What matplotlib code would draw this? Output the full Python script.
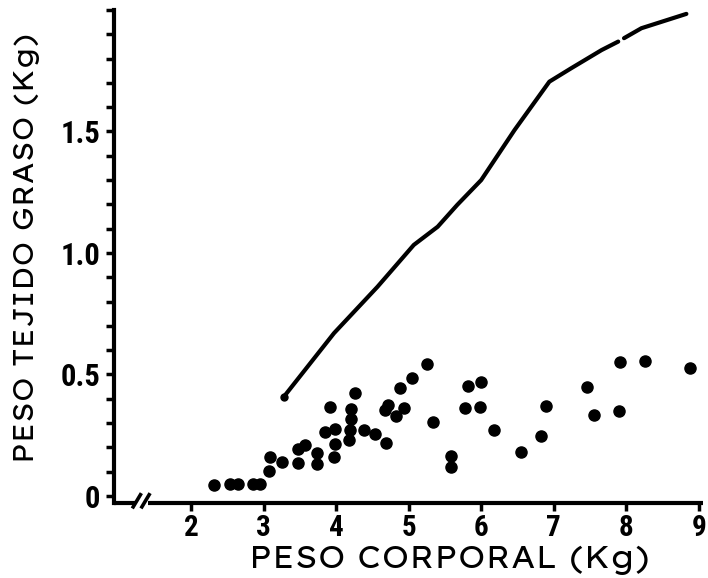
import matplotlib
matplotlib.use("Agg")
import matplotlib.pyplot as plt
from matplotlib import font_manager as fm
from matplotlib.textpath import TextPath
from matplotlib.font_manager import FontProperties

# ---- data ----
peso_corporal = [2.31, 2.53, 2.65, 2.85, 2.95, 3.08, 3.09, 3.25, 3.48, 3.48,
                 3.57, 3.74, 3.73, 3.84, 3.98, 3.91, 3.98, 3.97, 4.26, 4.21,
                 4.21, 4.19, 4.18, 4.38, 4.53, 4.69, 4.71, 4.67, 4.88, 4.94,
                 4.83, 5.04, 5.25, 5.34, 5.58, 5.58, 5.82, 6.00, 5.78, 5.99,
                 6.17, 6.55, 6.83, 6.90, 7.46, 7.56, 7.90, 7.91, 8.26, 8.88]
peso_graso = [0.044, 0.051, 0.051, 0.051, 0.051, 0.102, 0.162, 0.139, 0.137, 0.195,
              0.211, 0.178, 0.130, 0.263, 0.276, 0.365, 0.213, 0.162, 0.425, 0.357,
              0.316, 0.272, 0.230, 0.272, 0.254, 0.217, 0.374, 0.354, 0.446, 0.363,
              0.329, 0.487, 0.544, 0.303, 0.166, 0.121, 0.453, 0.469, 0.363, 0.366,
              0.272, 0.182, 0.247, 0.370, 0.449, 0.333, 0.351, 0.551, 0.554, 0.528]

curva_x = [3.28, 3.97, 4.57, 5.07, 5.40, 5.67, 6.00, 6.46, 6.94, 7.24, 7.66, 7.89,
           7.97, 8.21, 8.83]
curva_y = [0.409, 0.670, 0.861, 1.033, 1.108, 1.198, 1.300, 1.506, 1.705, 1.760,
           1.835, 1.870, 1.884, 1.925, 1.984]
curva_corte = 12  # the drawn curve has a small gap before this point

x_ticks = [2, 3, 4, 5, 6, 7, 8, 9]
x_ticklabels = ["2", "3", "4", "5", "6", "7", "8", "9"]
y_ticks = [0, 0.5, 1.0, 1.5]
y_ticklabels = ["0", "0.5", "1.0", "1.5"]
y_minor = [0.1, 0.2, 0.3, 0.4, 0.6, 0.7, 0.8, 0.9, 1.1, 1.2, 1.3, 1.4,
           1.6, 1.7, 1.8, 1.9, 2.0]

xlabel = "PESO CORPORAL (Kg)"
ylabel = "PESO TEJIDO GRASO (Kg)"

# ---- fonts ----
names = {f.name for f in fm.fontManager.ttflist}


def first_available(cands, default="DejaVu Sans"):
    for c in cands:
        if c in names:
            return c
    return default


tick_font = first_available(["Liberation Sans Narrow", "Roboto Condensed",
                             "Archivo Narrow", "PT Sans Narrow",
                             "Fira Sans Condensed", "Barlow Condensed",
                             "IBM Plex Sans Condensed", "Asap Condensed",
                             "Encode Sans Condensed"])

fig = plt.figure(figsize=(7.08, 5.78), dpi=100)
renderer = fig.canvas.get_renderer()


def text_width(s, fam, size):
    t = fig.text(0, 0, s, fontsize=size, family=fam)
    w = t.get_window_extent(renderer).width
    t.remove()
    return w


def cap_ratio(fam):
    tp = TextPath((0, 0), "E", size=100, prop=FontProperties(family=fam))
    return tp.get_extents().height / 100.0


label_cands = [c for c in ["Lexend Exa", "Lexend Giga", "Lexend Mega", "Lexend Peta",
                           "Lexend Tera", "Lexend Zetta", "Lexend Deca", "Lexend",
                           "DejaVu Sans"] if c in names] or ["DejaVu Sans"]


def fit_label(s, target_w, target_cap):
    best = None
    for c in label_cands:
        w = text_width(s, c, 20)
        size = 20 * target_w / w
        cap_px = cap_ratio(c) * size * 100 / 72.0
        err = abs(cap_px - target_cap)
        if best is None or err < best[1]:
            best = (c, err, size)
    return best[0], best[2]


xlabel_font, xlabel_size = fit_label(xlabel, 401.0, 21.0)
ylabel_font, ylabel_size = fit_label(ylabel, 430.0, 20.0)

ax = fig.add_axes([0.161, 0.1298, 0.993 - 0.161, 0.9827 - 0.1298])

ax.plot(curva_x[:curva_corte], curva_y[:curva_corte], color="black", lw=3.0,
        solid_capstyle="round", solid_joinstyle="round")
ax.plot(curva_x[curva_corte:], curva_y[curva_corte:], color="black", lw=3.0,
        solid_capstyle="round", solid_joinstyle="round")
ax.plot(curva_x[:1], curva_y[:1], "o", color="black", ms=5)
ax.plot(peso_corporal, peso_graso, "o", color="black", ms=8.0, mec="black")

ax.set_xlim(0.935, 9.06)
ax.set_ylim(-0.029, 2.0)

for s in ["top", "right"]:
    ax.spines[s].set_visible(False)
ax.spines["left"].set_linewidth(3)
ax.spines["bottom"].set_visible(False)

# bottom axis line with a break
y0 = -0.029
ax.plot([0.935, 1.22], [y0, y0], color="black", lw=3, clip_on=False, solid_capstyle="butt")
ax.plot([1.40, 9.06], [y0, y0], color="black", lw=3, clip_on=False, solid_capstyle="butt")
ax.plot([1.20, 1.30], [-0.045, 0.005], color="black", lw=2.6, clip_on=False)
ax.plot([1.32, 1.42], [-0.045, 0.005], color="black", lw=2.6, clip_on=False)

ax.set_xticks(x_ticks)
ax.set_xticklabels(x_ticklabels)
ax.set_yticks(y_ticks)
ax.set_yticklabels(y_ticklabels)
ax.set_yticks(y_minor, minor=True)

ax.tick_params(axis="x", direction="out", length=6, width=2.5, pad=2,
               labelsize=21)
ax.tick_params(axis="y", which="both", direction="out", length=6, width=2.5,
               pad=4, labelsize=22)
for lab in ax.get_xticklabels() + ax.get_yticklabels():
    lab.set_fontfamily(tick_font)
    lab.set_fontweight("bold")

fig.text(0.635, 0.031, xlabel, ha="center", va="center", fontsize=xlabel_size,
         family=xlabel_font)
fig.text(0.038, 0.571, ylabel, ha="center", va="center", fontsize=ylabel_size,
         rotation=90, family=ylabel_font)

fig.savefig("out.png", dpi=100)
